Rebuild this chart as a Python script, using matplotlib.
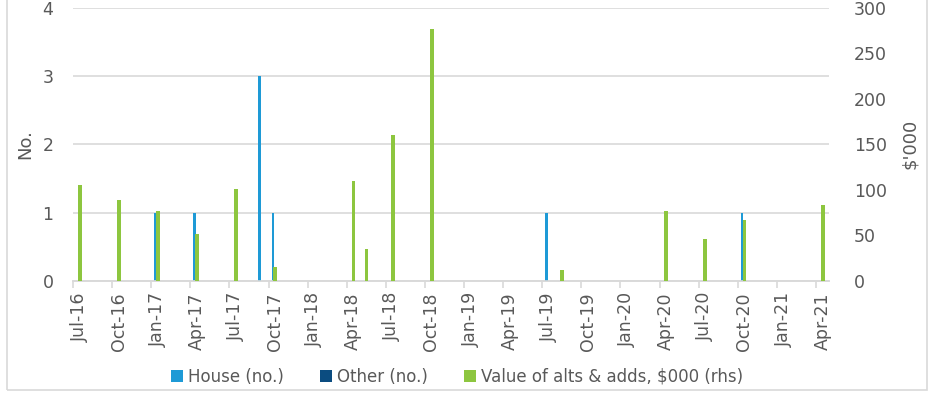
import numpy as np
import pandas as pd
import matplotlib
matplotlib.use("Agg")
import matplotlib.pyplot as plt
import matplotlib.patches as patches

# měsíce Jul-16 .. Apr-21
months = pd.date_range("2016-07-01", "2021-04-01", freq="MS")
month_labels = [d.strftime("%b-%y") for d in months]

# House (no.) podle měsíců
house = [0, 0, 0, 0, 0, 0, 1, 0, 0, 1, 0, 0,
         0, 0, 3, 1, 0, 0, 0, 0, 0, 0, 0, 0,
         0, 0, 0, 0, 0, 0, 0, 0, 0, 0, 0, 0,
         1, 0, 0, 0, 0, 0, 0, 0, 0, 0, 0, 0,
         0, 0, 0, 1, 0, 0, 0, 0, 0, 0]
# Other (no.)
other = [0] * 58
# Value of alts & adds, $000
value = [105, 0, 0, 89, 0, 0, 77, 0, 0, 52, 0, 0,
         101, 0, 0, 15, 0, 0, 0, 0, 0, 110, 35, 0,
         160, 0, 0, 277, 0, 0, 0, 0, 0, 0, 0, 0,
         0, 12, 0, 0, 0, 0, 0, 0, 0, 77, 0, 0,
         46, 0, 0, 67, 0, 0, 0, 0, 0, 83]

C_HOUSE = "#1E9AD6"
C_OTHER = "#0B4C80"
C_VALUE = "#8DC63F"
C_TEXT = "#595959"
C_GRID = "#D9D9D9"

plt.rcParams["font.family"] = ["DejaVu Sans"]

fig = plt.figure(figsize=(9.33, 3.93), dpi=100)
ax = fig.add_axes([73 / 933, 1 - 281 / 393, (829 - 73) / 933, (281 - 7.7) / 393])
ax2 = ax.twinx()

x = np.arange(len(months))
w = 0.18
ax.bar(x - w, house, width=w, color=C_HOUSE, label="House (no.)", zorder=3)
ax.bar(x, other, width=w, color=C_OTHER, label="Other (no.)", zorder=3)
ax2.bar(x + 0.02, value, width=0.3, color=C_VALUE, label="Value of alts & adds, $000 (rhs)", zorder=3)

ax.set_zorder(ax2.get_zorder() - 1)
ax2.patch.set_visible(False)

ax.set_xlim(-0.5, len(months) - 0.5)
ax.set_ylim(0, 4)
ax2.set_ylim(0, 300)
ax.set_yticks([0, 1, 2, 3, 4])
ax2.set_yticks(range(0, 301, 50))
ax.yaxis.grid(True, color=C_GRID, linewidth=1.2, zorder=0)
ax.set_axisbelow(True)

# popisky každé 3 měsíce, značky na hranicích kategorií
ax.set_xticks(x[::3])
ax.set_xticklabels(month_labels[::3], rotation=90, fontsize=12.5, color=C_TEXT)
ax.set_xticks(np.arange(-0.5, len(months), 3), minor=True)
ax.tick_params(axis="x", which="major", length=0, pad=8)
ax.tick_params(axis="x", which="minor", length=5, color=C_GRID, width=1.2)

ax.tick_params(axis="y", length=0, labelsize=12.5, labelcolor=C_TEXT, pad=14)
ax2.tick_params(axis="y", length=0, labelsize=12.5, labelcolor=C_TEXT, pad=18)

for a in (ax, ax2):
    for s in ["top", "left", "right"]:
        a.spines[s].set_visible(False)
    a.spines["bottom"].set_color(C_GRID)
    a.spines["bottom"].set_linewidth(1.2)

ax.set_ylabel("No.", fontsize=13, color=C_TEXT, labelpad=6)
ax2.set_ylabel("$'000", fontsize=13, color=C_TEXT, labelpad=10)

h1, l1 = ax.get_legend_handles_labels()
h2, l2 = ax2.get_legend_handles_labels()
fig.legend(h1 + h2, l1 + l2, loc="center", bbox_to_anchor=(0.49, 1 - 377 / 393),
           ncol=3, frameon=False, fontsize=12, labelcolor=C_TEXT,
           handlelength=0.7, handleheight=0.7, handletextpad=0.3, columnspacing=2.2)

# rámeček grafu
fig.patches.append(patches.Rectangle((7 / 933, 1 - 390 / 393), (927 - 7) / 933, 1.2,
                                     transform=fig.transFigure, fill=False,
                                     edgecolor=C_GRID, linewidth=1.2))

fig.savefig("out.png", dpi=100)
